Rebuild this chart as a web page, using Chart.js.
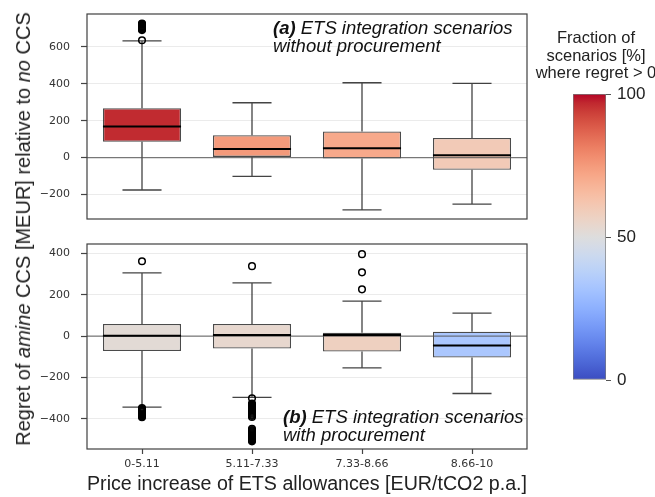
<!DOCTYPE html>
<html>
<head>
<meta charset="utf-8">
<script src="https://cdn.jsdelivr.net/npm/chart.js@4.4.1/dist/chart.umd.min.js"></script>
<style>
  html, body { margin: 0; padding: 0; background: #fff; }
  #wrap { position: relative; width: 655px; height: 497px; overflow: hidden; font-family: "Liberation Sans", Arial, sans-serif; color: #222; }
  canvas { position: absolute; }
  #topPanel { left: 0; top: 0; }
  #bottomPanel { left: 0; top: 230px; }
  #colorbar { left: 540px; top: 60px; }
  #ytitle { position: absolute; left: 23px; top: 229px; transform: translate(-50%, -50%) rotate(-90deg); font-size: 20px; white-space: nowrap; line-height: 1; }
  #cbtitle { position: absolute; left: 526px; width: 140px; top: 29px; text-align: center; font-size: 16.5px; line-height: 17.5px; white-space: nowrap; }
</style>
</head>
<body>
<div id="wrap">
  <canvas id="topPanel" width="540" height="230" style="width:540px;height:230px"></canvas>
  <canvas id="bottomPanel" width="540" height="267" style="width:540px;height:267px"></canvas>
  <canvas id="colorbar" width="115" height="340" style="width:115px;height:340px"></canvas>
  <div id="ytitle">Regret of <i>amine</i> CCS [MEUR] relative to <i>no</i> CCS</div>
  <div id="cbtitle">Fraction of<br>scenarios [%]<br>where regret &gt; 0</div>
</div>
<script>
// Price-increase bins of ETS allowances
const categories = ['0-5.11', '5.11-7.33', '7.33-8.66', '8.66-10'];

// (a) without procurement: box statistics [MEUR]
const topLow    = [-175, -101, -283, -252];
const topQ1     = [86, 4, -5, -66];
const topMedian = [168, 47, 51, 13];
const topQ3     = [267, 121, 141, 106];
const topHigh   = [632, 297, 405, 402];
const topFraction = [96.5, 75, 71, 60];   // % of scenarios with regret > 0
const topOutliers = [
  [635, 690, 694, 698, 702, 706, 710, 714, 718, 722, 726],
  [], [], []
];

// (b) with procurement: box statistics [MEUR]
const botLow    = [-343, -296, -153, -277];
const botQ1     = [-72, -60, -74, -103];
const botMedian = [2, 5, 6, -45];
const botQ3     = [59, 59, 16, 21];
const botHigh   = [306, 257, 169, 111];
const botFraction = [52, 54, 57.5, 33.5];
const botOutliers = [
  [362, -347, -352, -357, -362, -367, -372, -377, -382, -387, -392],
  [338, -300, -325, -330, -335, -340, -345, -350, -355, -360, -365, -370, -375, -380, -385, -390,
   -448, -453, -458, -463, -468, -473, -478, -483, -488, -493, -498, -503, -508],
  [396, 308, 226],
  []
];

// axis ticks
const topTicks = [-200, 0, 200, 400, 600];
const botTicks = [-400, -200, 0, 200, 400];
const cbTicks = [0, 50, 100];

// coolwarm colormap table (0 -> 1)
const coolwarmTable = [
  [59,76,192],[68,90,204],[77,104,215],[87,117,225],[98,130,234],[108,142,241],[119,154,247],
  [130,165,251],[141,176,254],[152,185,255],[163,194,255],[174,201,253],[184,208,249],[194,213,244],
  [204,217,238],[213,219,230],[221,221,221],[229,216,209],[236,211,197],[241,204,185],[245,196,173],
  [247,187,160],[247,177,148],[247,166,135],[244,154,123],[241,141,111],[236,127,99],[229,112,88],
  [222,96,77],[213,80,66],[203,62,56],[192,40,47],[180,4,38]
];
function coolwarm(t) {
  t = Math.max(0, Math.min(1, t));
  const n = coolwarmTable.length - 1;
  const f = t * n;
  const i = Math.min(Math.floor(f), n - 1);
  const r = f - i;
  const a = coolwarmTable[i], b = coolwarmTable[i + 1];
  const c = a.map((v, k) => Math.round(v + (b[k] - v) * r));
  return `rgb(${c[0]},${c[1]},${c[2]})`;
}

const TICK_FONT = { family: '"DejaVu Sans", sans-serif', size: 11 };
const minusFmt = v => (v < 0 ? '\u2212' + Math.abs(v) : String(v));

// whiskers, caps, medians, zero line, frame and panel caption
function panelDecor(note) {
  return {
    id: 'panelDecor',
    beforeDatasetsDraw(chart) {
      const ctx = chart.ctx, y = chart.scales.y;
      const ds = chart.data.datasets[0];
      const meta = chart.getDatasetMeta(0);
      ctx.save();
      ctx.strokeStyle = 'rgba(35,35,35,0.85)';
      ctx.lineWidth = 1.3;
      meta.data.forEach((bar, i) => {
        const x = bar.x, cap = bar.width / 4;
        const yLo = y.getPixelForValue(ds.low[i]), yHi = y.getPixelForValue(ds.high[i]);
        const yQ1 = y.getPixelForValue(ds.data[i][0]), yQ3 = y.getPixelForValue(ds.data[i][1]);
        ctx.beginPath();
        ctx.moveTo(x, yQ3); ctx.lineTo(x, yHi);
        ctx.moveTo(x, yQ1); ctx.lineTo(x, yLo);
        ctx.moveTo(x - cap, yHi); ctx.lineTo(x + cap, yHi);
        ctx.moveTo(x - cap, yLo); ctx.lineTo(x + cap, yLo);
        ctx.stroke();
      });
      ctx.restore();
    },
    afterDatasetsDraw(chart) {
      const ctx = chart.ctx, y = chart.scales.y, a = chart.chartArea;
      const ds = chart.data.datasets[0];
      const meta = chart.getDatasetMeta(0);
      ctx.save();
      // zero reference line
      const y0 = y.getPixelForValue(0);
      ctx.strokeStyle = 'rgba(80,80,80,0.75)';
      ctx.lineWidth = 1.2;
      ctx.beginPath(); ctx.moveTo(a.left, y0); ctx.lineTo(a.right, y0); ctx.stroke();
      // medians
      ctx.strokeStyle = '#000';
      ctx.lineWidth = 2;
      meta.data.forEach((bar, i) => {
        const ym = y.getPixelForValue(ds.median[i]);
        ctx.beginPath();
        ctx.moveTo(bar.x - bar.width / 2, ym); ctx.lineTo(bar.x + bar.width / 2, ym);
        ctx.stroke();
      });
      // frame
      ctx.strokeStyle = '#404040';
      ctx.lineWidth = 1.2;
      ctx.strokeRect(a.left, a.top, a.right - a.left, a.bottom - a.top);
      // caption
      ctx.fillStyle = '#111';
      ctx.textBaseline = 'alphabetic';
      let x = a.left + note.dx;
      ctx.font = 'italic bold 18.5px "Liberation Sans", Arial, sans-serif';
      ctx.fillText(note.tag, x, a.top + note.dy1);
      x += ctx.measureText(note.tag).width;
      ctx.font = 'italic 18.5px "Liberation Sans", Arial, sans-serif';
      ctx.fillText(note.line1, x, a.top + note.dy1);
      ctx.fillText(note.line2, a.left + note.dx, a.top + note.dy2);
      ctx.restore();
    }
  };
}

function panelConfig(o) {
  return {
    type: 'bar',
    data: {
      labels: categories,
      datasets: [
        {
          data: categories.map((c, i) => [o.q1[i], o.q3[i]]),
          low: o.low, high: o.high, median: o.median,
          backgroundColor: o.fraction.map(f => coolwarm(f / 100)),
          borderColor: 'rgba(30,30,30,0.8)',
          borderWidth: 1.3,
          borderSkipped: false,
          barPercentage: 0.71,
          categoryPercentage: 1.0
        },
        {
          type: 'line',
          showLine: false,
          data: o.outliers.flatMap((vals, i) => vals.map(v => ({ x: categories[i], y: v }))),
          pointRadius: 3.3,
          pointBorderWidth: 1.5,
          pointBorderColor: '#000',
          pointBackgroundColor: 'rgba(0,0,0,0)',
          pointStyle: 'circle'
        }
      ]
    },
    options: {
      responsive: false,
      animation: false,
      devicePixelRatio: 1,
      layout: { padding: { top: 14, bottom: o.padBottom, left: 0, right: 13 } },
      plugins: { legend: { display: false }, tooltip: { enabled: false }, title: { display: false } },
      scales: {
        x: o.xAxis,
        y: {
          min: o.min, max: o.max,
          afterBuildTicks: s => { s.ticks = o.ticks.map(v => ({ value: v })); },
          afterFit: s => { s.width = 87; s.paddingTop = 0; s.paddingBottom = 0; },
          ticks: { font: TICK_FONT, color: '#333', padding: 11, callback: minusFmt },
          grid: { color: '#ebebeb', lineWidth: 1, drawTicks: true, tickLength: 6, tickColor: '#444', tickWidth: 1.2 },
          border: { display: false }
        }
      }
    },
    plugins: [panelDecor(o.note)]
  };
}

new Chart(document.getElementById('topPanel'), panelConfig({
  q1: topQ1, q3: topQ3, low: topLow, high: topHigh, median: topMedian,
  fraction: topFraction, outliers: topOutliers, ticks: topTicks,
  min: -332, max: 777, padBottom: 11,
  xAxis: { display: false },
  note: { tag: '(a)', line1: ' ETS integration scenarios', line2: 'without procurement', dx: 186, dy1: 20, dy2: 38 }
}));

new Chart(document.getElementById('bottomPanel'), panelConfig({
  q1: botQ1, q3: botQ3, low: botLow, high: botHigh, median: botMedian,
  fraction: botFraction, outliers: botOutliers, ticks: botTicks,
  min: -545, max: 445, padBottom: 0,
  xAxis: {
    afterFit: s => { s.height = 48; },
    ticks: { font: TICK_FONT, color: '#333', padding: 4 },
    grid: { offset: false, drawOnChartArea: false, drawTicks: true, tickLength: 5, tickColor: '#444', tickWidth: 1.2 },
    border: { display: false },
    title: {
      display: true,
      text: 'Price increase of ETS allowances [EUR/tCO2 p.a.]',
      font: { family: '"Liberation Sans", Arial, sans-serif', size: 20 },
      color: '#222',
      padding: { top: 0, bottom: 1 }
    }
  },
  note: { tag: '(b)', line1: ' ETS integration scenarios', line2: 'with procurement', dx: 196, dy1: 179, dy2: 197 }
}));

// colour scale bar
new Chart(document.getElementById('colorbar'), {
  type: 'bar',
  data: {
    labels: [''],
    datasets: [{
      data: [[0, 100]],
      backgroundColor: ctx => {
        const chart = ctx.chart, area = chart.chartArea;
        if (!area) return null;
        const g = chart.ctx.createLinearGradient(0, area.bottom, 0, area.top);
        const n = coolwarmTable.length - 1;
        coolwarmTable.forEach((c, i) => g.addColorStop(i / n, `rgb(${c[0]},${c[1]},${c[2]})`));
        return g;
      },
      borderColor: 'rgba(90,90,90,0.8)',
      borderWidth: 1,
      borderSkipped: false,
      barPercentage: 1,
      categoryPercentage: 1
    }]
  },
  options: {
    responsive: false,
    animation: false,
    devicePixelRatio: 1,
    layout: { padding: { top: 34, bottom: 20, left: 33, right: 0 } },
    plugins: { legend: { display: false }, tooltip: { enabled: false } },
    scales: {
      x: { display: false },
      y: {
        position: 'right',
        min: 0, max: 100,
        afterBuildTicks: s => { s.ticks = cbTicks.map(v => ({ value: v })); },
        afterFit: s => { s.width = 49; },
        ticks: { font: { family: '"Liberation Sans", Arial, sans-serif', size: 17 }, color: '#222', padding: 6 },
        grid: { drawOnChartArea: false, drawTicks: true, tickLength: 5, tickColor: '#555' },
        border: { display: false }
      }
    }
  }
});
</script>
</body>
</html>
